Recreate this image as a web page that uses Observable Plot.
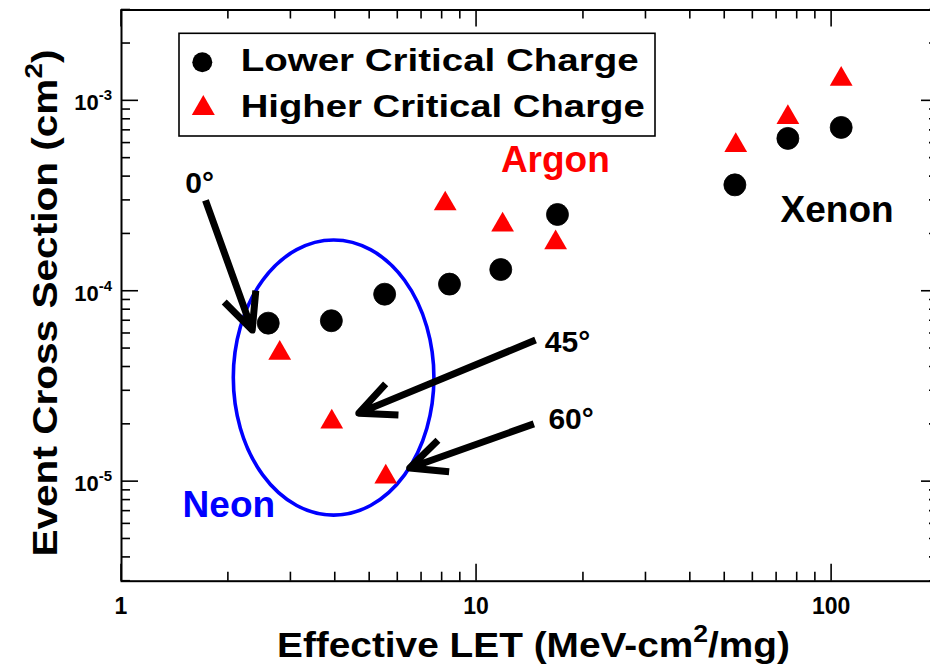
<!DOCTYPE html>
<html>
<head>
<meta charset="utf-8">
<script src="https://cdn.jsdelivr.net/npm/d3@7"></script>
<script src="https://cdn.jsdelivr.net/npm/@observablehq/plot@0.6"></script>
<style>
  html, body { margin: 0; padding: 0; background: #fff; overflow: hidden; }
  #chart svg { display: block; }
</style>
</head>
<body>
<div id="chart"></div>
<script>
// ---- Data ----
const seriesNames = ["Lower Critical Charge", "Higher Critical Charge"];
const letLower   = [2.59, 3.90, 5.51, 8.39, 11.7, 16.9, 53.4, 75.3, 106.4];
const sigmaLower = [6.8e-5, 7.0e-5, 9.65e-5, 1.09e-4, 1.30e-4, 2.53e-4, 3.62e-4, 6.35e-4, 7.25e-4];
const letHigher   = [2.79, 3.91, 5.55, 8.16, 11.84, 16.7, 53.7, 75.3, 106.4];
const sigmaHigher = [4.73e-5, 2.06e-5, 1.06e-5, 2.88e-4, 2.23e-4, 1.80e-4, 5.84e-4, 8.18e-4, 1.30e-3];

// axis ticks
const xTickValues = [1, 10, 100];
const xTickLabels = ["1", "10", "100"];
const yTickValues = [1e-3, 1e-4, 1e-5];
const yTickExponents = ["-3", "-4", "-5"];
const xTitle = ["Effective LET (MeV-cm", "2", "/mg)"];
const yTitle = ["Event Cross Section (cm", "2", ")"];

// annotations (data coordinates)
const angleText = ["0°", "45°", "60°"];
const angleX = [1.659, 18.04, 18.46];
const angleY = [3.68e-4, 5.37e-5, 2.13e-5];
const arrowX1 = [1.724, 14.66, 14.5];
const arrowY1 = [3.0e-4, 5.54e-5, 2.01e-5];
const arrowX2 = [2.334, 4.66, 6.48];
const arrowY2 = [6.25e-5, 2.29e-5, 1.18e-5];
const ionText = ["Argon", "Xenon", "Neon"];
const ionX = [16.67, 103.6, 2.006];
const ionY = [4.90e-4, 2.66e-4, 7.48e-6];
// Neon ellipse: centre and half-axes in decades
const neonCenter = [3.97, 3.5e-5];
const neonHalfDecades = [0.2825, 0.7225];

// ---- tables ----
const lower = letLower.map((x, i) => ({x, y: sigmaLower[i]}));
const higher = letHigher.map((x, i) => ({x, y: sigmaHigher[i]}));
const angles = angleText.map((t, i) => ({t, x: angleX[i], y: angleY[i]}));
const arrows = arrowX1.map((x1, i) => ({x1, y1: arrowY1[i], x2: arrowX2[i], y2: arrowY2[i]}));
const ions = ionText.map((t, i) => ({t, x: ionX[i], y: ionY[i]}));

const FONT = "'Liberation Sans', Arial, Helvetica, sans-serif";
const xDomain = [1, 200];
const yDomain = [3e-6, 3e-3];

function axesMark(index, scales, values, dims) {
  const {x, y} = scales;
  const L = dims.marginLeft, R = dims.width - dims.marginRight;
  const T = dims.marginTop, B = dims.height - dims.marginBottom;
  const g = d3.create("svg:g");
  const tg = g.append("g").attr("stroke", "black").attr("stroke-width", 1.6);
  const isMajor = v => Math.abs(Math.log10(v) - Math.round(Math.log10(v))) < 1e-9;
  for (const v of d3.scaleLog().domain(xDomain).ticks()) {
    const px = x(v), len = isMajor(v) ? 17 : 9;
    tg.append("line").attr("x1", px).attr("x2", px).attr("y1", B).attr("y2", B - len);
    tg.append("line").attr("x1", px).attr("x2", px).attr("y1", T).attr("y2", T + len);
  }
  for (const v of d3.scaleLog().domain(yDomain).ticks()) {
    const py = y(v), len = isMajor(v) ? 17 : 9;
    tg.append("line").attr("y1", py).attr("y2", py).attr("x1", L).attr("x2", L + len);
    tg.append("line").attr("y1", py).attr("y2", py).attr("x1", R).attr("x2", R - len);
  }
  // x tick labels
  xTickValues.forEach((v, i) => {
    g.append("text").attr("x", x(v)).attr("y", B + 33)
      .attr("text-anchor", "middle").attr("font-family", FONT)
      .attr("font-size", 23).attr("font-weight", "bold").text(xTickLabels[i]);
  });
  // y tick labels with superscripts
  yTickValues.forEach((v, i) => {
    const t = g.append("text").attr("x", L - 9).attr("y", y(v) + 10)
      .attr("text-anchor", "end").attr("font-family", FONT)
      .attr("font-size", 22).attr("font-weight", "bold");
    t.append("tspan").text("10");
    t.append("tspan").attr("dy", -10).attr("font-size", 15).text(yTickExponents[i]);
  });
  // x title
  const xt = g.append("text").attr("x", (L + R) / 2 + 4).attr("y", B + 76)
    .attr("text-anchor", "middle").attr("font-family", FONT)
    .attr("font-size", 35).attr("font-weight", "bold")
    .attr("textLength", 513).attr("lengthAdjust", "spacingAndGlyphs");
  xt.append("tspan").text(xTitle[0]);
  xt.append("tspan").attr("dy", -15).attr("font-size", 24).text(xTitle[1]);
  xt.append("tspan").attr("dy", 15).text(xTitle[2]);
  // y title
  const yt = g.append("text").attr("transform", `translate(57,${(T + B) / 2 + 8}) rotate(-90)`)
    .attr("text-anchor", "middle").attr("font-family", FONT)
    .attr("font-size", 35).attr("font-weight", "bold")
    .attr("textLength", 507).attr("lengthAdjust", "spacingAndGlyphs");
  yt.append("tspan").text(yTitle[0]);
  yt.append("tspan").attr("dy", -15).attr("font-size", 24).text(yTitle[1]);
  yt.append("tspan").attr("dy", 15).text(yTitle[2]);
  return g.node();
}

function ellipseMark(index, scales) {
  const {x, y} = scales;
  const cx = x(neonCenter[0]), cy = y(neonCenter[1]);
  const rx = x(neonCenter[0] * Math.pow(10, neonHalfDecades[0])) - cx;
  const ry = cy - y(neonCenter[1] * Math.pow(10, neonHalfDecades[1]));
  const e = d3.create("svg:ellipse").attr("cx", cx).attr("cy", cy)
    .attr("rx", rx).attr("ry", ry).attr("fill", "none")
    .attr("stroke", "#0000ff").attr("stroke-width", 3.6);
  return e.node();
}

function legendMark() {
  const g = d3.create("svg:g");
  g.append("rect").attr("x", 179).attr("y", 33.3).attr("width", 476).attr("height", 102.7)
    .attr("fill", "white").attr("stroke", "black").attr("stroke-width", 1.6);
  g.append("circle").attr("cx", 202.3).attr("cy", 62.3).attr("r", 10).attr("fill", "black");
  g.append("path").attr("transform", "translate(203.3,108.4)")
    .attr("d", d3.symbol(d3.symbolTriangle, 229)()).attr("fill", "#ff0000");
  [[seriesNames[0], 70.7, 398], [seriesNames[1], 116.7, 404]].forEach(([txt, by, len]) => {
    g.append("text").attr("x", 240.7).attr("y", by).attr("font-family", FONT)
      .attr("text-anchor", "start")
      .attr("font-size", 31).attr("font-weight", "bold")
      .attr("textLength", len).attr("lengthAdjust", "spacingAndGlyphs").text(txt);
  });
  return g.node();
}

const plot = Plot.plot({
  width: 930,
  height: 668,
  marginLeft: 121,
  marginRight: -8,
  marginTop: 9.5,
  marginBottom: 87.3,
  x: {type: "log", domain: xDomain, axis: null},
  y: {type: "log", domain: yDomain, axis: null},
  style: {background: "white", fontFamily: FONT},
  marks: [
    Plot.frame({stroke: "black", strokeWidth: 2}),
    axesMark,
    ellipseMark,
    Plot.arrow(arrows, {x1: "x1", y1: "y1", x2: "x2", y2: "y2", stroke: "black",
      strokeWidth: 7, headLength: 8.5, headAngle: 50, strokeLinecap: "butt", strokeLinejoin: "round"}),
    Plot.dot(lower, {x: "x", y: "y", r: 11, fill: "black", stroke: "black", strokeWidth: 0.8, symbol: "circle"}),
    Plot.dot(higher, {x: "x", y: "y", r: 8.45, fill: "#ff0000", symbol: "triangle"}),
    Plot.text(angles, {x: "x", y: "y", text: "t", fontSize: 30, fontWeight: "bold", fill: "black"}),
    Plot.text(ions.filter(d => d.t === "Argon"), {x: "x", y: "y", text: "t", fontSize: 37, fontWeight: "bold", fill: "#ff0000"}),
    Plot.text(ions.filter(d => d.t === "Xenon"), {x: "x", y: "y", text: "t", fontSize: 37, fontWeight: "bold", fill: "black"}),
    Plot.text(ions.filter(d => d.t === "Neon"), {x: "x", y: "y", text: "t", fontSize: 37, fontWeight: "bold", fill: "#0000ff"}),
    legendMark
  ]
});
document.getElementById("chart").append(plot);
</script>
</body>
</html>
